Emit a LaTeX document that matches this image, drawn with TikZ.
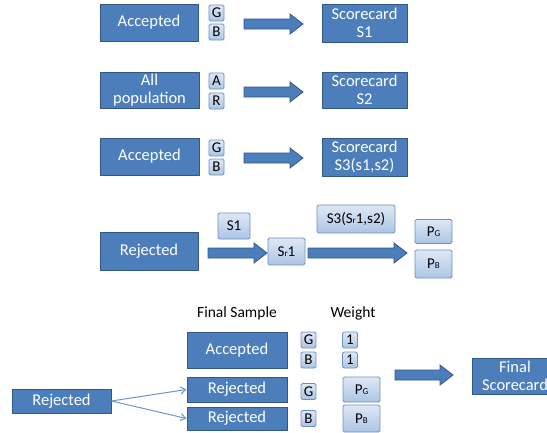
\documentclass[tikz,border=0pt]{standalone}
\usepackage{fontspec}
\setmainfont{Carlito}
\usetikzlibrary{arrows.meta}
\definecolor{mainfill}{RGB}{76,126,188}
\definecolor{mainline}{RGB}{52,88,134}
\definecolor{lighttop}{RGB}{222,232,245}
\definecolor{lightbot}{RGB}{172,197,228}
\definecolor{lightline}{RGB}{110,145,195}
\definecolor{thincol}{RGB}{112,150,200}
\newcommand{\subG}{{\fontsize{9}{9}\selectfont G}}
\newcommand{\subB}{{\fontsize{9}{9}\selectfont B}}
\newcommand{\subr}{{\fontsize{9}{9}\selectfont r}}
% block arrow: #1 left x, #2 tip x, #3 centre y
\newcommand{\blockarr}[3]{%
  \draw[blockarrow] (#1,#3-5) -- (#2-13,#3-5) -- (#2-13,#3-10) -- (#2,#3)
    -- (#2-13,#3+10) -- (#2-13,#3+5) -- (#1,#3+5) -- cycle;}
\begin{document}
\begin{tikzpicture}[x=1pt,y=-1pt,
  mainbox/.style={draw=mainline, fill=mainfill, line width=1pt, text=white, align=center, inner sep=0pt, font=\fontsize{16.5}{18}\selectfont},
  lightbox/.style={draw=lightline, top color=lighttop, bottom color=lightbot, rounded corners=1.5pt, line width=0.8pt, inner sep=0pt, font=\fontsize{15}{15}\selectfont, text=black},
  letterbox/.style={lightbox, minimum width=15pt, minimum height=16pt},
  blockarrow/.style={draw=mainline, fill=mainfill, line width=0.8pt, line join=miter},
  thinarrow/.style={draw=thincol, line width=1pt, -{Straight Barb[length=5pt,width=7pt]}},
  headlabel/.style={inner sep=0pt, font=\fontsize{15.5}{15.5}\selectfont, text=black}
]
\useasboundingbox (0,0) rectangle (547,432);
\clip (0,0) rectangle (547,432);

% Row 1
\node[mainbox, minimum width=98pt, minimum height=37pt] (acc1) at (149,22.5) {Accepted};
\node[letterbox] (g1) at (216.5,13) {G};
\node[letterbox] (b1) at (216.5,32) {B};
\blockarr{244}{303}{24}
\node[mainbox, minimum width=85pt, minimum height=38pt] (sc1) at (364.5,23) {Scorecard\\S1};

% Row 2
\node[mainbox, minimum width=99pt, minimum height=36pt] (all) at (149.5,90) {All\\population};
\node[letterbox] (a2) at (216.5,81) {A};
\node[letterbox] (r2) at (216.5,101) {R};
\blockarr{244}{303}{92}
\node[mainbox, minimum width=85pt, minimum height=36pt] (sc2) at (364.5,90) {Scorecard\\S2};

% Row 3
\node[mainbox, minimum width=99pt, minimum height=37pt] (acc3) at (149.5,156.5) {Accepted};
\node[letterbox] (g3) at (216.5,148) {G};
\node[letterbox] (b3) at (216.5,167) {B};
\blockarr{244}{303}{158}
\node[mainbox, minimum width=85pt, minimum height=38pt] (sc3) at (364.5,157) {Scorecard\\S3(s1,s2)};

% Row 4
\node[mainbox, minimum width=98pt, minimum height=38pt] (rej4) at (149,251) {Rejected};
\node[lightbox, minimum width=32pt, minimum height=26pt] (s1) at (234,226) {S1};
\blockarr{208}{267}{253}
\node[lightbox, minimum width=37pt, minimum height=27pt] (sr1) at (286.5,251.5) {S\subr1};
\node[lightbox, minimum width=78pt, minimum height=28pt] (s3) at (356,219) {S3(S\subr1,s2)};
\blockarr{308}{407}{253}
\node[lightbox, minimum width=37pt, minimum height=24pt] (pg4) at (433.5,231.5) {P\subG};
\node[lightbox, minimum width=37pt, minimum height=28pt] (pb4) at (433.5,264) {P\subB};

% Row 5
\node[headlabel] (fs) at (237,313) {Final Sample};
\node[headlabel] (wt) at (353,313) {Weight};
\node[mainbox, minimum width=100pt, minimum height=36pt] (acc5) at (237,350) {Accepted};
\node[letterbox] (g5) at (308.5,340) {G};
\node[letterbox] (b5) at (308.5,360) {B};
\node[letterbox] (w1) at (350,340) {1};
\node[letterbox] (w2) at (350,360) {1};
\node[mainbox, minimum width=100pt, minimum height=25pt] (rja) at (237,389.5) {Rejected};
\node[mainbox, minimum width=100pt, minimum height=23pt] (rjb) at (237,418.5) {Rejected};
\node[letterbox] (g6) at (308.5,391.5) {G};
\node[letterbox] (b6) at (308.5,418.5) {B};
\node[lightbox, minimum width=37pt, minimum height=25pt] (pg5) at (361.5,389.5) {P\subG};
\node[lightbox, minimum width=37pt, minimum height=27pt] (pb5) at (361.5,418.5) {P\subB};
\node[mainbox, minimum width=99pt, minimum height=24pt] (rejl) at (61.5,401) {Rejected};
\blockarr{395}{453}{375}
\node[mainbox, minimum width=86pt, minimum height=36pt] (fin) at (515,376) {Final\\Scorecard};

\draw[thinarrow] (rejl.east) -- (rja.west);
\draw[thinarrow] (rejl.east) -- (rjb.west);
\end{tikzpicture}
\end{document}
